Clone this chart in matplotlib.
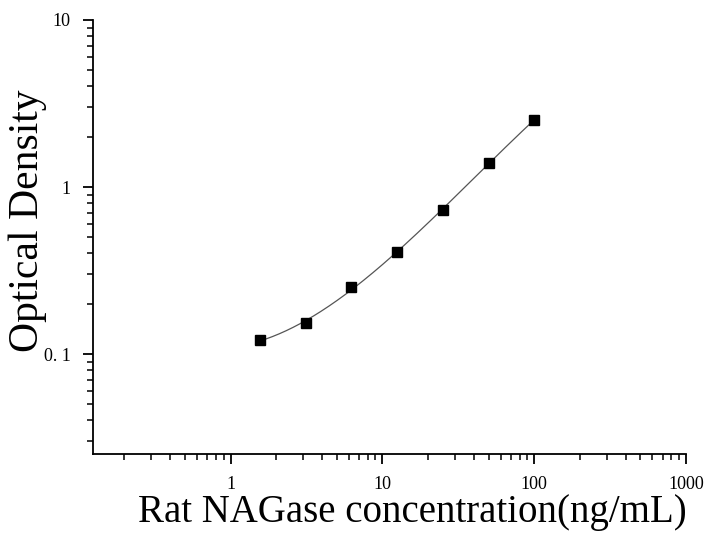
import numpy as np
import matplotlib
matplotlib.use("Agg")
import matplotlib.pyplot as plt
from matplotlib.ticker import LogLocator, NullFormatter

# standard curve data
conc = [1.5625, 3.125, 6.25, 12.5, 25, 50, 100]
od = [0.121, 0.153, 0.252, 0.408, 0.728, 1.39, 2.52]

xticks = [1, 10, 100, 1000]
xticklabels = ['1', '10', '100', '1000']
yticks = [0.1, 1, 10]
yticklabels = ['0. 1', '1', '10']

plt.rcParams['font.family'] = ['Liberation Serif', 'DejaVu Serif']

fig = plt.figure(figsize=(7.06, 5.36), dpi=100)
ax = fig.add_axes([0.1317, 0.153, 0.84, 0.8097])

# smooth fitted curve (cubic in log-log space)
lx = np.log10(conc)
ly = np.log10(od)
coef = np.polyfit(lx, ly, 3)
xs = np.linspace(lx.min(), lx.max(), 200)
ax.plot(10**xs, 10**np.polyval(coef, xs), color='#555555', lw=0.9, zorder=2)

ax.plot(conc, od, 's', color='black', markersize=7, zorder=3)

ax.set_xscale('log')
ax.set_yscale('log')
ax.set_xlim(0.124, 1000)
ax.set_ylim(0.0252, 10)

ax.set_xticks(xticks)
ax.set_xticklabels(xticklabels)
ax.set_yticks(yticks)
ax.set_yticklabels(yticklabels)
ax.xaxis.set_minor_locator(LogLocator(base=10, subs=np.arange(2, 10)))
ax.yaxis.set_minor_locator(LogLocator(base=10, subs=np.arange(2, 10)))
ax.xaxis.set_minor_formatter(NullFormatter())
ax.yaxis.set_minor_formatter(NullFormatter())

ax.spines['top'].set_visible(False)
ax.spines['right'].set_visible(False)
for s in ['left', 'bottom']:
    ax.spines[s].set_linewidth(1.3)
ax.tick_params(which='major', length=7, width=1.3, labelsize=13, direction='out', pad=9)
ax.tick_params(which='minor', length=4, width=1.1, direction='out')

# axis titles
fig.text(0.584, 0.043, 'Rat NAGase concentration(ng/mL)', fontsize=28,
         ha='center', va='center')
fig.text(0.040, 0.588, 'Optical Density', fontsize=30, rotation=90,
         ha='center', va='center')

fig.savefig('out.png', dpi=100)
